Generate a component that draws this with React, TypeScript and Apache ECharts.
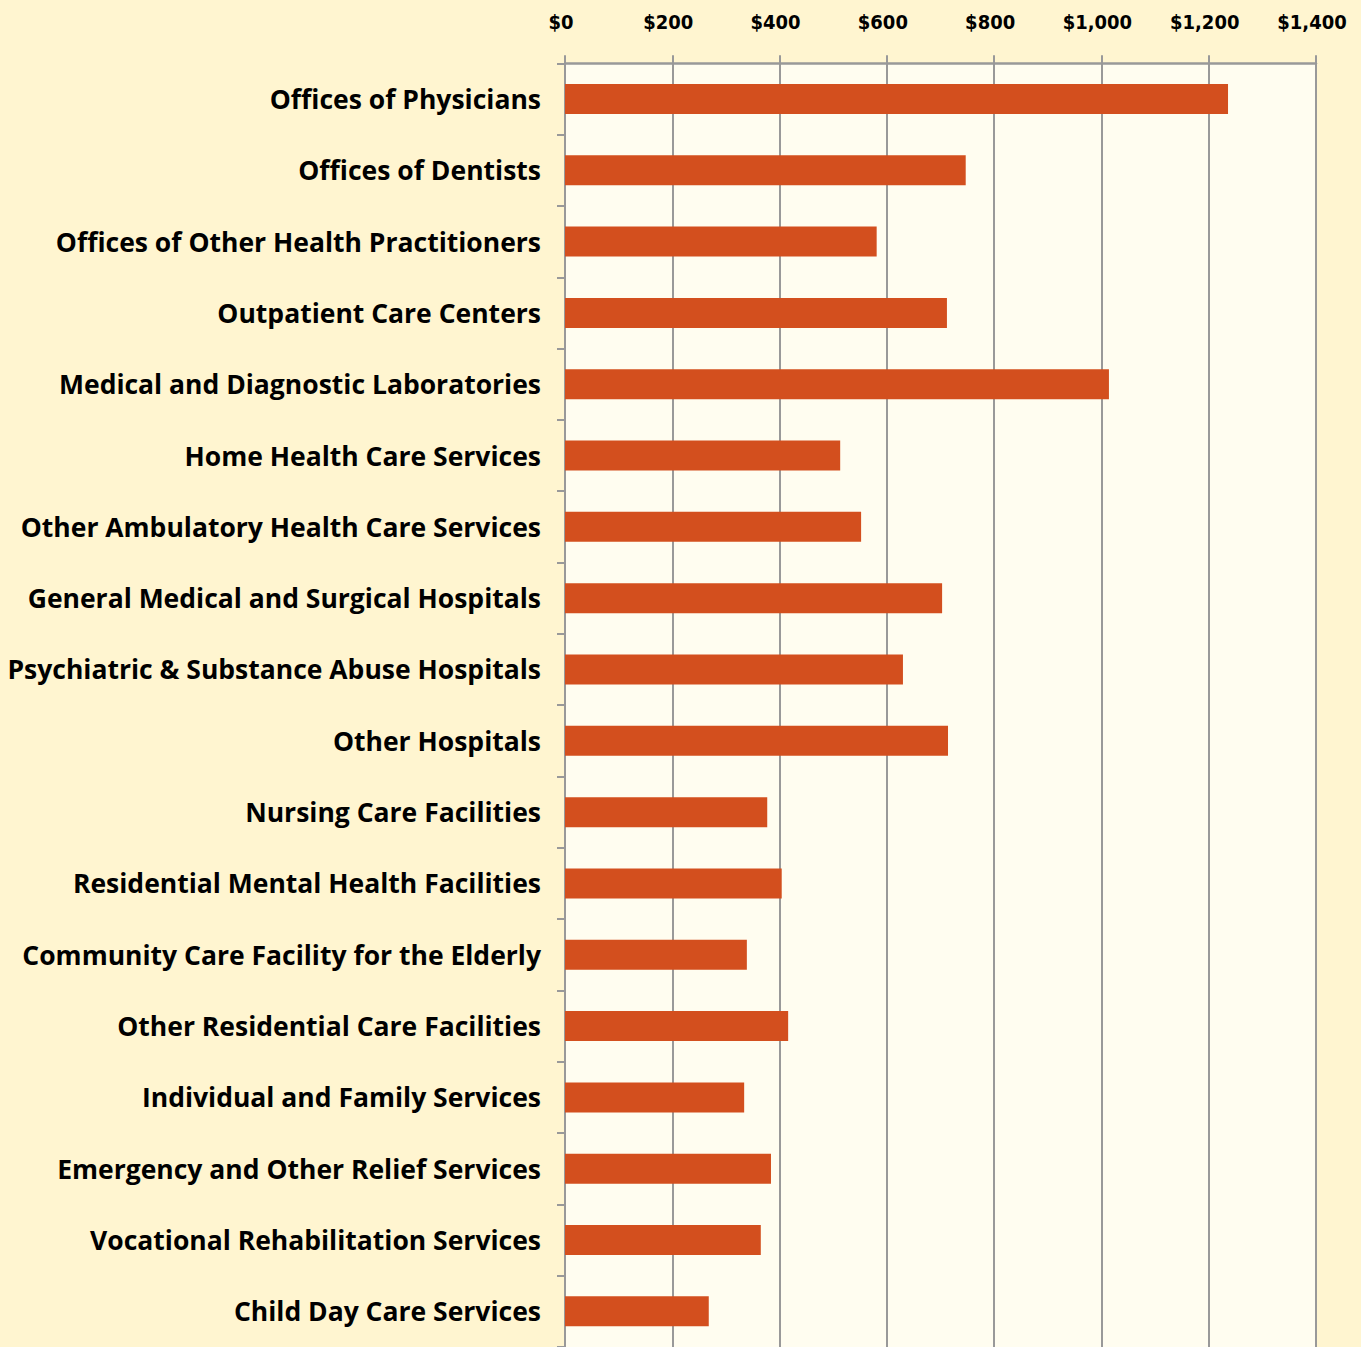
import React, { useEffect, useRef } from "react";
import * as echarts from "echarts";

const categories = [
  "Offices of Physicians",
  "Offices of Dentists",
  "Offices of Other Health Practitioners",
  "Outpatient Care Centers",
  "Medical and Diagnostic Laboratories",
  "Home Health Care Services",
  "Other Ambulatory Health Care Services",
  "General Medical and Surgical Hospitals",
  "Psychiatric & Substance Abuse Hospitals",
  "Other Hospitals",
  "Nursing Care Facilities",
  "Residential Mental Health Facilities",
  "Community Care Facility for the Elderly",
  "Other Residential Care Facilities",
  "Individual and Family Services",
  "Emergency and Other Relief Services",
  "Vocational Rehabilitation Services",
  "Child Day Care Services",
];

const values = [
  1236, 747, 581, 712, 1014, 513, 552, 703, 630, 714, 377, 404, 339, 416, 334,
  384, 365, 268,
];

const xTicks = [0, 200, 400, 600, 800, 1000, 1200, 1400];

const fmt = (v: number) => "$" + v.toLocaleString("en-US");

export default function App() {
  const ref = useRef<HTMLDivElement>(null);
  useEffect(() => {
    if (!ref.current) return;
    const chart = echarts.init(ref.current, undefined, { renderer: "svg" });
    chart.setOption({
      animation: false,
      backgroundColor: "#FFF5D0",
      grid: {
        left: 565,
        top: 63.3,
        width: 751,
        height: 1288,
        show: true,
        backgroundColor: "#FFFDF0",
        borderWidth: 0,
      },
      xAxis: {
        type: "value",
        position: "top",
        min: xTicks[0],
        max: xTicks[xTicks.length - 1],
        interval: 200,
        axisLine: { show: true, lineStyle: { color: "#999999", width: 2.5 } },
        axisTick: { show: true, length: 8, lineStyle: { color: "#999999", width: 2 } },
        splitLine: { show: true, lineStyle: { color: "#999999", width: 2 } },
        axisLabel: {
          margin: 31,
          formatter: (v: number) => fmt(v),
          color: "#000",
          fontFamily: "DejaVu Sans Condensed",
          fontWeight: "bold",
          fontSize: 20,
          padding: [0, 8, 0, 0],
        },
      },
      yAxis: {
        type: "category",
        data: categories,
        inverse: true,
        axisLine: { show: true, lineStyle: { color: "#999999", width: 2 } },
        axisTick: { show: true, length: 8, lineStyle: { color: "#999999", width: 2 } },
        axisLabel: {
          margin: 24,
          color: "#000",
          fontFamily: "Open Sans",
          fontWeight: "bold",
          fontSize: 26.5,
        },
      },
      series: [
        {
          type: "bar",
          data: values,
          barWidth: 30,
          itemStyle: { color: "#D34F1E" },
        },
      ],
    });
    return () => chart.dispose();
  }, []);
  return (
    <div
      ref={ref}
      style={{ position: "absolute", left: 0, top: 0, width: 1361, height: 1347 }}
    />
  );
}
